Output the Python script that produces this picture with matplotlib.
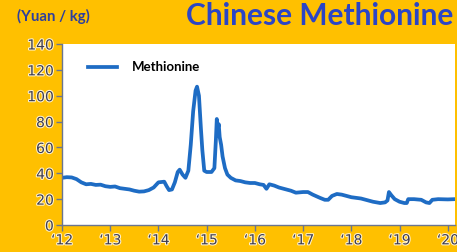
import matplotlib
matplotlib.use("Agg")
import matplotlib.pyplot as plt
import matplotlib.patheffects as pe

dates = [2012.00, 2012.10, 2012.20, 2012.30, 2012.40, 2012.50, 2012.60, 2012.70, 2012.80, 2012.90,
         2013.00, 2013.10, 2013.20, 2013.30, 2013.40, 2013.50, 2013.60, 2013.70, 2013.80, 2013.90,
         2014.00, 2014.12, 2014.17, 2014.22, 2014.28, 2014.34, 2014.40, 2014.44, 2014.50, 2014.56,
         2014.62, 2014.67, 2014.72, 2014.77, 2014.80, 2014.84, 2014.88, 2014.91, 2014.95, 2015.00,
         2015.10, 2015.16, 2015.19, 2015.21, 2015.23, 2015.25, 2015.27, 2015.30, 2015.33, 2015.38,
         2015.43, 2015.50, 2015.60, 2015.70, 2015.80, 2015.90, 2016.00, 2016.10, 2016.18, 2016.24,
         2016.30, 2016.40, 2016.50, 2016.60, 2016.75, 2016.85, 2017.00, 2017.10, 2017.20, 2017.35,
         2017.45, 2017.52, 2017.60, 2017.70, 2017.80, 2017.90, 2018.00, 2018.10, 2018.20, 2018.30,
         2018.45, 2018.60, 2018.70, 2018.75, 2018.78, 2018.83, 2018.90, 2019.00, 2019.10, 2019.15,
         2019.18, 2019.30, 2019.45, 2019.55, 2019.62, 2019.68, 2019.80, 2020.00, 2020.15]
prices = [36.5, 37.0, 36.8, 35.5, 33.0, 31.5, 31.8, 31.0, 31.2, 30.0,
          29.5, 29.8, 28.5, 28.0, 27.5, 26.5, 25.8, 26.0, 27.0, 29.0,
          33.0, 33.5, 30.0, 27.0, 27.5, 33.0, 41.0, 42.8, 39.0, 36.5,
          42.0, 62.0, 88.0, 104.0, 107.0, 100.0, 75.0, 58.0, 42.0, 41.0,
          41.0, 44.0, 65.0, 82.0, 74.0, 78.0, 68.0, 62.0, 53.0, 44.0,
          39.0, 36.5, 34.5, 34.0, 33.0, 32.5, 32.5, 31.5, 31.0, 28.0,
          31.5, 30.5, 29.0, 28.0, 26.5, 25.0, 25.5, 25.5, 23.5, 21.0,
          19.5, 19.5, 22.5, 24.0, 23.5, 22.5, 21.5, 21.0, 20.5, 19.5,
          18.0, 17.0, 17.5, 19.0, 25.5, 23.0, 20.0, 18.0, 17.0, 17.0,
          20.0, 20.0, 19.5, 17.5, 17.0, 19.5, 20.0, 19.8, 20.0]

xticks = [2012, 2013, 2014, 2015, 2016, 2017, 2018, 2019, 2020]
xticklabels = ["\u201812", "\u201813", "\u201814", "\u201815", "\u201816", "\u201817", "\u201818", "\u201819", "\u201820"]
yticks = [0, 20, 40, 60, 80, 100, 120, 140]

bg = "#FFC000"
fig = plt.figure(figsize=(4.57, 2.52), dpi=100, facecolor=bg)
ax = fig.add_axes([0.1357, 0.1071, 0.8599, 0.7183])
ax.set_facecolor("white")

ax.plot(dates, prices, color="#1E6CC4", lw=2.7, label="Methionine", solid_joinstyle="round")
ax.set_xlim(2012, 2020.15)
ax.set_ylim(0, 140)
ax.set_xticks(xticks)
ax.set_xticklabels(xticklabels)
ax.set_yticks(yticks)

for s in ["top", "right"]:
    ax.spines[s].set_visible(False)
for s in ["left", "bottom"]:
    ax.spines[s].set_color("#6A7590")
    ax.spines[s].set_linewidth(1.0)
ax.tick_params(axis="both", colors="#6A7590", length=4, width=1, labelsize=10,
               labelcolor="#3C3C50", pad=2)
for lab in ax.get_xticklabels() + ax.get_yticklabels():
    lab.set_path_effects([pe.withStroke(linewidth=1.5, foreground="#FFF3D0")])

leg = ax.legend(loc="upper left", bbox_to_anchor=(0.037, 0.97), frameon=False,
                handlelength=2.2, prop={"weight": "bold", "size": 9.5, "family": "Lato"},
                handletextpad=1.1)

fig.text(0.993, 0.935, "Chinese Methionine", ha="right", va="center", fontsize=21.5,
         fontweight="bold", color="#2B45C6", family="Lato")
fig.text(0.038, 0.935, "(Yuan / kg)", ha="left", va="center", fontsize=10.8,
         fontweight="bold", color="#2E3F9E", family="Lato")

fig.savefig("out.png", dpi=100, facecolor=bg)
